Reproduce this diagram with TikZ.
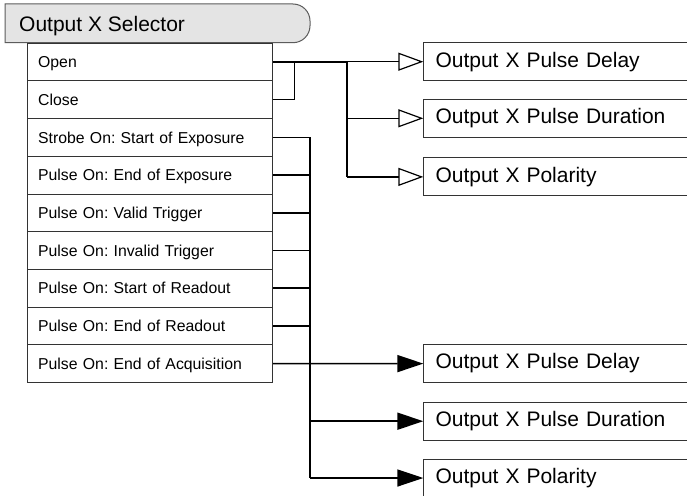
\documentclass[tikz,border=0pt]{standalone}
\usepackage{fontspec}
\setmainfont{Liberation Sans}
\usetikzlibrary{arrows.meta}
\frenchspacing
\definecolor{titlegray}{HTML}{E4E4E4}
\definecolor{boxline}{HTML}{333333}
\tikzset{
  rowbox/.style={draw=boxline, line width=0.9pt, anchor=north west,
    text width=223.9pt, inner xsep=10.7pt, inner ysep=0pt, align=left,
    minimum height=37.7pt, text height=11.2pt, text depth=0pt,
    font=\fontsize{15.8}{18}\selectfont},
  outbox/.style={draw=boxline, line width=1pt, anchor=west,
    text width=276.3pt, inner xsep=11.7pt, inner ysep=0pt, align=left,
    minimum height=38pt, text height=15pt, text depth=4.4pt,
    font=\fontsize{21}{24}\selectfont},
  thinline/.style={line width=1.2pt},
  midline/.style={line width=1.7pt},
  boldline/.style={line width=2.3pt},
  opentip/.style={-{Triangle[open, length=25pt, width=18pt]}},
  filltip/.style={-{Triangle[length=26pt, width=17pt]}}
}
\begin{document}
\begin{tikzpicture}[x=1pt,y=-1pt]
\useasboundingbox (0,0) rectangle (687,495);
\clip (0,0) rectangle (687,495);
\fill[white] (0,0) rectangle (687,495);

% title shape
\filldraw[fill=titlegray, draw=boxline!80, line width=1pt]
  (5,42.7) -- (5,4) -- (293,4)
  .. controls (302.4,4) and (310,11.6) .. (310,21)
  -- (310,25.7)
  .. controls (310,35.1) and (302.4,42.7) .. (293,42.7) -- cycle;
\node[anchor=base west, inner sep=0pt, font=\fontsize{21}{24}\selectfont]
  (title) at (19,31.3) {Output X Selector};

% list rows
\foreach \i/\t in {1/Open, 2/Close, 3/Strobe On: Start of Exposure,
  4/Pulse On: End of Exposure, 5/Pulse On: Valid Trigger,
  6/Pulse On: Invalid Trigger, 7/Pulse On: Start of Readout,
  8/Pulse On: End of Readout, 9/Pulse On: End of Acquisition}
  \node[rowbox] (r\i) at (27,{42.7+(\i-1)*37.7}) {\t};

% output boxes
\node[outbox] (a1) at (423.3,61.7) {Output X Pulse Delay};
\node[outbox] (a2) at (423.3,118.3) {Output X Pulse Duration};
\node[outbox] (a3) at (423.3,176.9) {Output X Polarity};
\node[outbox] (b1) at (423.3,363.6) {Output X Pulse Delay};
\node[outbox] (b2) at (423.3,421.2) {Output X Pulse Duration};
\node[outbox] (b3) at (423.3,478) {Output X Polarity};

% junction columns
\coordinate (j1) at (294.3,0);
\coordinate (j2) at (347,0);
\coordinate (j3) at (310,0);

% top group
\draw[thinline] (r2.east) -- (r2.east -| j1) -- (r1.east -| j1);
\draw[midline] (a1.west -| j2) -- (a3.west -| j2);
\draw[boldline] (r1.east) -- (r1.east -| j2);
\draw[thinline, opentip] (a1.west -| j2) -- (a1.west);
\draw[thinline, opentip] (a2.west -| j2) -- (a2.west);
\draw[thinline, opentip] (a3.west -| j2) -- (a3.west);

% bottom group
\draw[boldline] (r3.east -| j3) -- (b3.west -| j3);
\draw[thinline] (r3.east) -- (r3.east -| j3);
\foreach \i in {4,...,8}
  \draw[midline] (r\i.east) -- (r\i.east -| j3);
\draw[midline, filltip] (r9.east) -- (b1.west);
\draw[midline, filltip] (b2.west -| j3) -- (b2.west);
\draw[midline, filltip] (b3.west -| j3) -- (b3.west);
\end{tikzpicture}
\end{document}
